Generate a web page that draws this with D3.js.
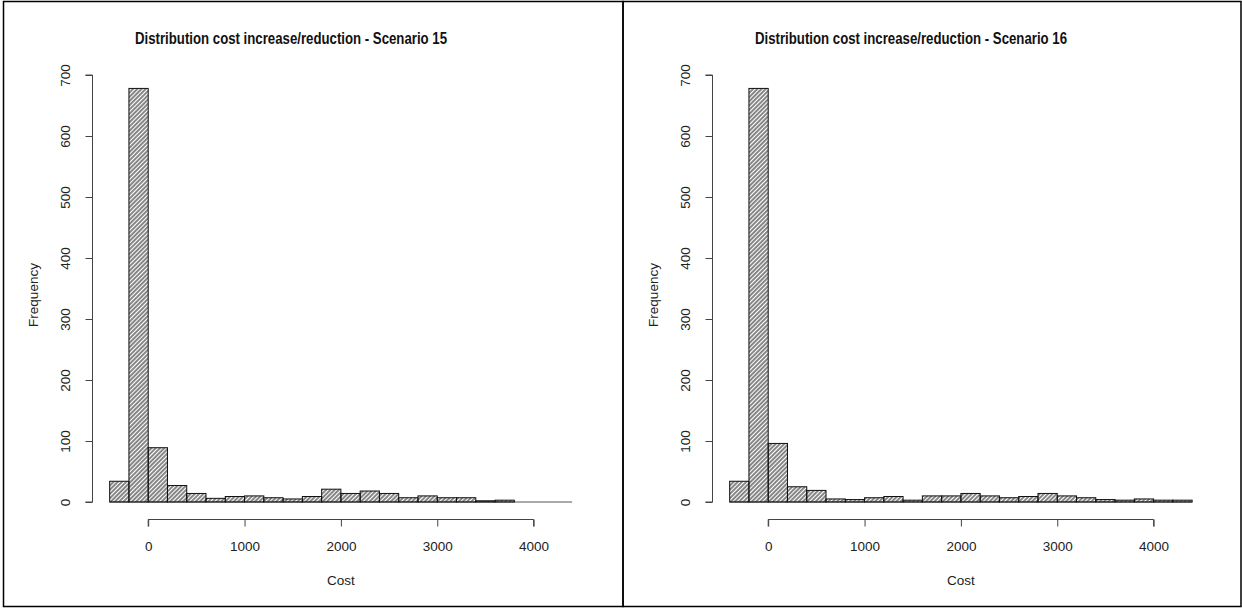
<!DOCTYPE html>
<html>
<head>
<meta charset="utf-8">
<script src="https://cdn.jsdelivr.net/npm/d3@7"></script>
<style>
  html, body { margin: 0; padding: 0; background: #fff; }
  svg { display: block; font-family: "Liberation Sans", Arial, sans-serif; }
</style>
</head>
<body>
<svg id="chart" width="1242" height="608"></svg>
<script>
// Histogram bins (left edge of each 200-wide bin)
const binStarts = [-400, -200, 0, 200, 400, 600, 800, 1000, 1200, 1400, 1600, 1800,
                   2000, 2200, 2400, 2600, 2800, 3000, 3200, 3400, 3600, 3800, 4000, 4200];
const binWidth = 200;

// Counts per bin for each scenario
const scenario15 = [34, 678, 89, 27, 14, 6, 9, 10, 7, 5, 9, 21,
                    14, 18, 14, 7, 10, 7, 7, 2, 3, 0, 0, 0];
const scenario16 = [34, 678, 96, 25, 19, 5, 4, 7, 9, 3, 10, 10,
                    14, 10, 7, 9, 14, 10, 7, 4, 3, 5, 3, 3];

const xTicks = [0, 1000, 2000, 3000, 4000];
const yTicks = [0, 100, 200, 300, 400, 500, 600, 700];

const titles = ["Distribution cost increase/reduction - Scenario 15",
                "Distribution cost increase/reduction - Scenario 16"];
const xLabel = "Cost";
const yLabel = "Frequency";

const svg = d3.select("#chart");

// Diagonal hatch fill for the bars
const defs = svg.append("defs");
defs.append("pattern")
  .attr("id", "hatch")
  .attr("patternUnits", "userSpaceOnUse")
  .attr("width", 3)
  .attr("height", 3)
  .attr("patternTransform", "rotate(45)")
  .append("line")
  .attr("x1", 1).attr("y1", 0).attr("x2", 1).attr("y2", 3)
  .attr("stroke", "#222").attr("stroke-width", 1.1);

const panels = [
  { counts: scenario15, title: titles[0], offset: 0 },
  { counts: scenario16, title: titles[1], offset: 620 }
];

// Panel frames
svg.append("rect").attr("x", 3.5).attr("y", 1.5).attr("width", 619.5).attr("height", 605)
  .attr("fill", "none").attr("stroke", "#000").attr("stroke-width", 1.5);
svg.append("rect").attr("x", 623).attr("y", 1.5).attr("width", 618).attr("height", 605)
  .attr("fill", "none").attr("stroke", "#000").attr("stroke-width", 1.5);

panels.forEach(p => {
  const g = svg.append("g").attr("transform", `translate(${p.offset},0)`);

  const x = d3.scaleLinear().domain([0, 4000]).range([148.2, 533.6]);
  const y = d3.scaleLinear().domain([0, 700]).range([502, 75]);

  const bins = binStarts.map((s, i) => ({ x0: s, x1: s + binWidth, n: p.counts[i] }));

  // Baseline under all bins (empty bins show only as this line)
  g.append("line")
    .attr("x1", x(bins[0].x0)).attr("x2", x(bins[bins.length - 1].x1))
    .attr("y1", y(0)).attr("y2", y(0))
    .attr("stroke", "#555").attr("stroke-width", 1);

  g.selectAll("rect.bar").data(bins.filter(d => d.n > 0)).join("rect")
    .attr("class", "bar")
    .attr("x", d => x(d.x0))
    .attr("y", d => y(d.n))
    .attr("width", d => x(d.x1) - x(d.x0))
    .attr("height", d => y(0) - y(d.n))
    .attr("fill", "url(#hatch)")
    .attr("stroke", "#111")
    .attr("stroke-width", 1);

  // X axis
  const xAxis = d3.axisBottom(x).tickValues(xTicks).tickSize(7).tickPadding(15)
    .tickFormat(d3.format("d"));
  const gx = g.append("g").attr("transform", "translate(0,519.5)").call(xAxis);
  gx.select(".domain").attr("stroke", "#444").attr("d", `M${x(0)},7V0H${x(4000)}V7`);
  gx.selectAll(".tick line").attr("stroke", "#444");
  gx.selectAll("text").attr("font-size", 13.5).attr("fill", "#222")
    .attr("font-family", "Liberation Sans, Arial, sans-serif");

  // Y axis
  const yAxis = d3.axisLeft(y).tickValues(yTicks).tickSize(7).tickPadding(0);
  const gy = g.append("g").attr("transform", "translate(92.5,0)").call(yAxis);
  gy.select(".domain").attr("stroke", "#444").attr("d", `M-7,${y(0)}H0V${y(700)}H-7`);
  gy.selectAll(".tick line").attr("stroke", "#444");
  gy.selectAll("text")
    .attr("font-size", 13.5).attr("fill", "#222")
    .attr("font-family", "Liberation Sans, Arial, sans-serif")
    .attr("x", null).attr("dy", null)
    .attr("text-anchor", "middle")
    .attr("transform", "translate(-22.5,0) rotate(-90)");

  // Title
  g.append("text")
    .attr("x", 291).attr("y", 44)
    .attr("text-anchor", "middle")
    .attr("font-size", 16).attr("font-weight", "bold").attr("fill", "#111")
    .attr("textLength", 312).attr("lengthAdjust", "spacingAndGlyphs")
    .text(p.title);

  // Axis labels
  g.append("text")
    .attr("x", 341).attr("y", 585)
    .attr("text-anchor", "middle")
    .attr("font-size", 13.5).attr("fill", "#222")
    .text(xLabel);

  g.append("text")
    .attr("transform", "translate(38,295) rotate(-90)")
    .attr("text-anchor", "middle")
    .attr("font-size", 13.5).attr("fill", "#222")
    .text(yLabel);
});
</script>
</body>
</html>
